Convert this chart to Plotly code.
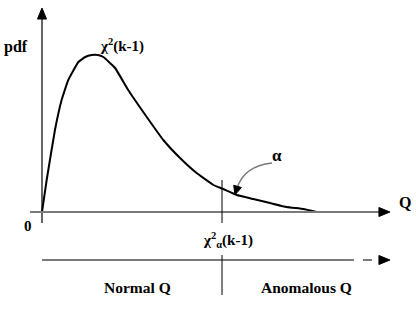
import plotly.graph_objects as go
import math

# Curve (Q, pdf)
q_vals = [0, 0.26, 0.72, 1.09, 1.46, 2.02, 2.4, 2.76, 3.1, 3.41, 4.06, 4.79, 5.82, 6.74,
          7.67, 8.59, 9.52, 10.07, 10.82, 11.74, 12.67, 13.59, 14.52, 15.26]
pdf_vals = [0, 0.032, 0.082, 0.112, 0.132, 0.150, 0.155, 0.157, 0.157, 0.155, 0.144, 0.122,
            0.095, 0.072, 0.054, 0.039, 0.027, 0.023, 0.017, 0.013, 0.009,
            0.005, 0.003, 0.0]

threshold = 10.0
axis_labels = ["pdf", "Q", "0"]
region_labels = ["Normal Q", "Anomalous Q"]

W, H = 416, 311
XR = [-2.333, 20.778]
YR = [-0.099, 0.212]
sx = W / (XR[1] - XR[0])   # px per Q unit
sy = H / (YR[1] - YR[0])   # px per pdf unit

FONT = "Liberation Serif"
GRAY = "#7a7a7a"

fig = go.Figure()
fig.add_trace(go.Scatter(x=q_vals, y=pdf_vals, mode="lines",
                         line=dict(color="black", width=2, shape="spline", smoothing=0.3),
                         hoverinfo="skip", showlegend=False))

shapes = []

def line(x0, y0, x1, y1, color="black", width=1, dash="solid"):
    shapes.append(dict(type="line", x0=x0, y0=y0, x1=x1, y1=y1, xref="x", yref="y",
                       line=dict(color=color, width=width, dash=dash)))

def head(tx, ty, dxp, dyp, length=10, half=4.5, color="black"):
    n = math.hypot(dxp, dyp)
    ux, uy = dxp / n, dyp / n
    bx, by = -ux * length, -uy * length
    px_, py_ = -uy * half, ux * half
    p1 = (tx + (bx + px_) / sx, ty + (by + py_) / sy)
    p2 = (tx + (bx - px_) / sx, ty + (by - py_) / sy)
    shapes.append(dict(type="path", xref="x", yref="y",
                       path=f"M {tx},{ty} L {p1[0]},{p1[1]} L {p2[0]},{p2[1]} Z",
                       fillcolor=color, line=dict(color=color, width=1)))

# vertical axis
line(0, -0.011, 0, 0.196, "black", 1.2)
head(0, 0.204, 0, 1, length=11, half=4.5)
# horizontal axis
line(-0.667, 0, 18.8, 0, GRAY, 2)
head(19.33, 0, 1, 0, length=11, half=4.5)
# threshold line
line(threshold, 0.032, threshold, -0.011, "black", 1)
# second arrow (regions)
yb = -0.048
line(0, yb, 16.83, yb, GRAY, 2)
line(16.83, yb, 18.8, yb, GRAY, 2, "dash")
head(19.33, yb, 1, 0, length=11, half=4.5)
line(threshold, -0.043, threshold, -0.083, "black", 1)
# curved pointer to tail area
x0, y0 = 12.78, 0.049
cx, cy = 11.2, 0.046
x1, y1 = 10.72, 0.017
shapes.append(dict(type="path", xref="x", yref="y",
                   path=f"M {x0},{y0} Q {cx},{cy} {x1+0.1},{y1+0.006}",
                   line=dict(color=GRAY, width=1.5)))
head(x1, y1, (x1 - cx) * sx, (y1 - cy) * sy, length=9, half=4)

ann = []
def text(x, y, t, size=15, xanchor="center"):
    ann.append(dict(x=x, y=y, xref="x", yref="y", text=t, showarrow=False,
                    xanchor=xanchor, yanchor="middle",
                    font=dict(family=FONT, size=size, color="black", weight="bold")))

text(-1.45, 0.165, axis_labels[0], size=16)
text(4.45, 0.167, "χ<sup>2</sup>(k-1)")
text(-0.78, -0.014, axis_labels[2])
text(20.17, 0.010, axis_labels[1], size=16)
text(10.33, -0.028, "χ<sup>2</sup><sub>α</sub>(k-1)")
text(13.06, 0.057, "α", size=17)
text(5.33, -0.075, region_labels[0], size=15.5)
text(14.67, -0.075, region_labels[1], size=15.5)

fig.update_layout(width=W, height=H, margin=dict(l=0, r=0, t=0, b=0),
                  paper_bgcolor="white", plot_bgcolor="white",
                  font=dict(family=FONT, size=15),
                  xaxis=dict(range=XR, visible=False, fixedrange=True),
                  yaxis=dict(range=YR, visible=False, fixedrange=True),
                  shapes=shapes, annotations=ann, showlegend=False)
fig.write_html("out.html", config={"displayModeBar": False})
